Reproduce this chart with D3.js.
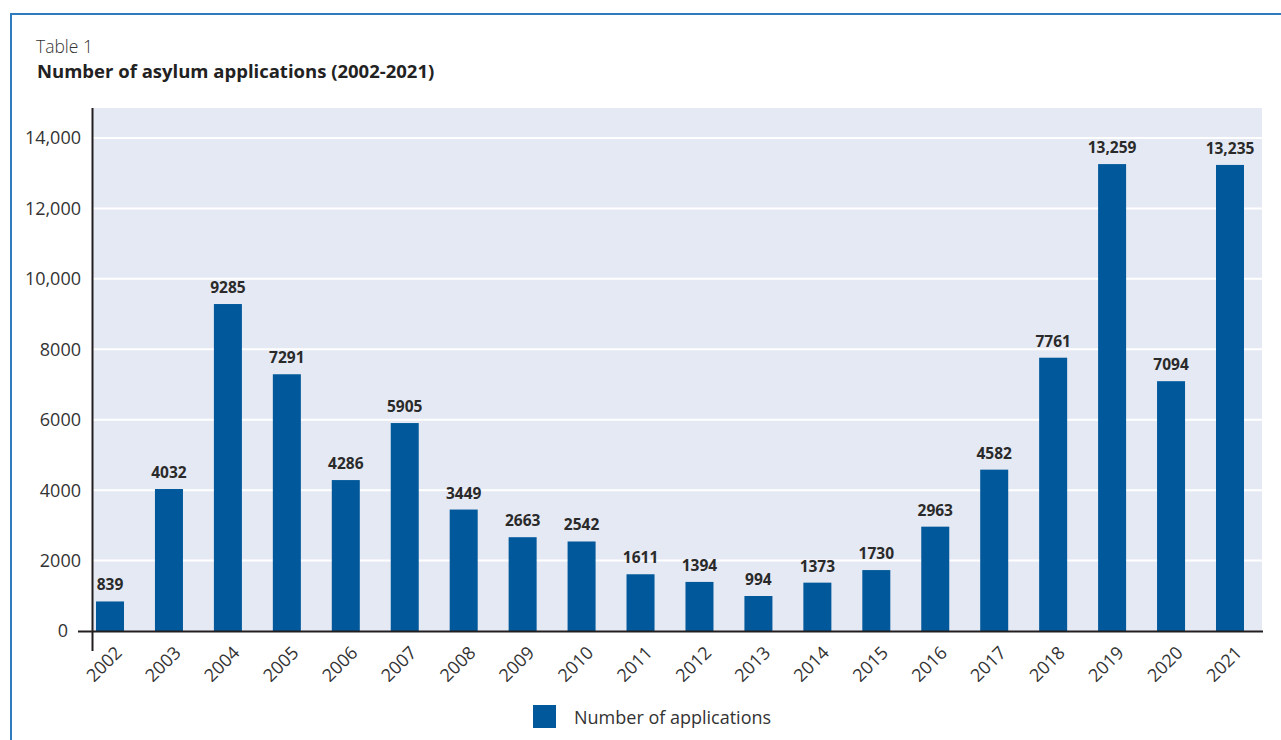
<!DOCTYPE html>
<html>
<head>
<meta charset="utf-8">
<script src="https://cdn.jsdelivr.net/npm/d3@7"></script>
<style>
  html, body { margin: 0; padding: 0; background: #ffffff; }
  svg { display: block; font-family: "Open Sans", "Noto Sans", sans-serif; }
</style>
</head>
<body>
<svg id="chart" width="1281" height="740"></svg>
<script>
const years = ["2002","2003","2004","2005","2006","2007","2008","2009","2010","2011",
               "2012","2013","2014","2015","2016","2017","2018","2019","2020","2021"];
const applications = [839, 4032, 9285, 7291, 4286, 5905, 3449, 2663, 2542, 1611,
                      1394, 994, 1373, 1730, 2963, 4582, 7761, 13259, 7094, 13235];
const barLabels = ["839","4032","9285","7291","4286","5905","3449","2663","2542","1611",
                   "1394","994","1373","1730","2963","4582","7761","13,259","7094","13,235"];
const yTicks = [0, 2000, 4000, 6000, 8000, 10000, 12000, 14000];
const yTickLabels = ["0","2000","4000","6000","8000","10,000","12,000","14,000"];
const seriesName = "Number of applications";
const tableLabel = "Table 1";
const title = "Number of asylum applications (2002-2021)";

const svg = d3.select("#chart");
const barColor = "#01589b";
const bgColor = "#e5e9f3";
const textColor = "#333333";

// frame border
svg.append("line").attr("x1", 11).attr("x2", 1281).attr("y1", 14).attr("y2", 14)
  .attr("stroke", "#2f7bbd").attr("stroke-width", 2);
svg.append("line").attr("x1", 11).attr("x2", 11).attr("y1", 13).attr("y2", 740)
  .attr("stroke", "#2f7bbd").attr("stroke-width", 2);

// titles
svg.append("text").attr("x", 36).attr("y", 53).attr("font-size", 17.5).attr("font-weight", 300)
  .attr("fill", textColor).text(tableLabel);
svg.append("text").attr("x", 37).attr("y", 78).attr("font-size", 18.5).attr("font-weight", 700)
  .attr("fill", "#222").text(title);

const plotLeft = 93, plotRight = 1262, plotTop = 108, plotBottom = 631;

const y = d3.scaleLinear().domain([0, 14000]).range([631, 138]);
const x = d3.scaleBand().domain(years).range([93, 1247]).paddingInner(0.525).paddingOuter(0.051);

// background
svg.append("rect").attr("x", plotLeft).attr("y", plotTop)
  .attr("width", plotRight - plotLeft).attr("height", plotBottom - plotTop).attr("fill", bgColor);

// gridlines
svg.append("g").selectAll("line").data(yTicks.filter(d => d > 0)).join("line")
  .attr("x1", plotLeft).attr("x2", plotRight)
  .attr("y1", d => y(d)).attr("y2", d => y(d))
  .attr("stroke", "#ffffff").attr("stroke-width", 2);

// y tick labels
svg.append("g").selectAll("text").data(yTicks).join("text")
  .attr("x", (d) => d === 0 ? 68 : 81)
  .attr("y", d => y(d))
  .attr("dy", "0.36em")
  .attr("text-anchor", "end")
  .attr("font-size", 18)
  .attr("fill", textColor)
  .text((d, i) => yTickLabels[i]);

// bars
svg.append("g").selectAll("rect").data(applications).join("rect")
  .attr("x", (d, i) => x(years[i]))
  .attr("y", d => y(d))
  .attr("width", x.bandwidth())
  .attr("height", d => y(0) - y(d))
  .attr("fill", barColor);

// bar value labels
svg.append("g").selectAll("text").data(applications).join("text")
  .attr("x", (d, i) => x(years[i]) + x.bandwidth() / 2)
  .attr("y", d => y(d) - 11)
  .attr("text-anchor", "middle")
  .attr("font-size", 15.5)
  .attr("font-weight", 700)
  .attr("fill", "#2a2a2a")
  .text((d, i) => barLabels[i]);

// axes lines
svg.append("line").attr("x1", 78).attr("x2", 1263).attr("y1", 631.5).attr("y2", 631.5)
  .attr("stroke", "#231f20").attr("stroke-width", 2);
svg.append("line").attr("x1", 92.5).attr("x2", 92.5).attr("y1", 108).attr("y2", 651)
  .attr("stroke", "#231f20").attr("stroke-width", 2);

// x labels
svg.append("g").selectAll("text").data(years).join("text")
  .attr("transform", d => `translate(${x(d) + x.bandwidth() / 2 + 13},654) rotate(-45)`)
  .attr("text-anchor", "end")
  .attr("font-size", 18)
  .attr("fill", textColor)
  .text(d => d);

// legend
svg.append("rect").attr("x", 533).attr("y", 705).attr("width", 23).attr("height", 23).attr("fill", barColor);
svg.append("text").attr("x", 574).attr("y", 724).attr("font-size", 18).attr("fill", textColor).text(seriesName);
</script>
</body>
</html>
